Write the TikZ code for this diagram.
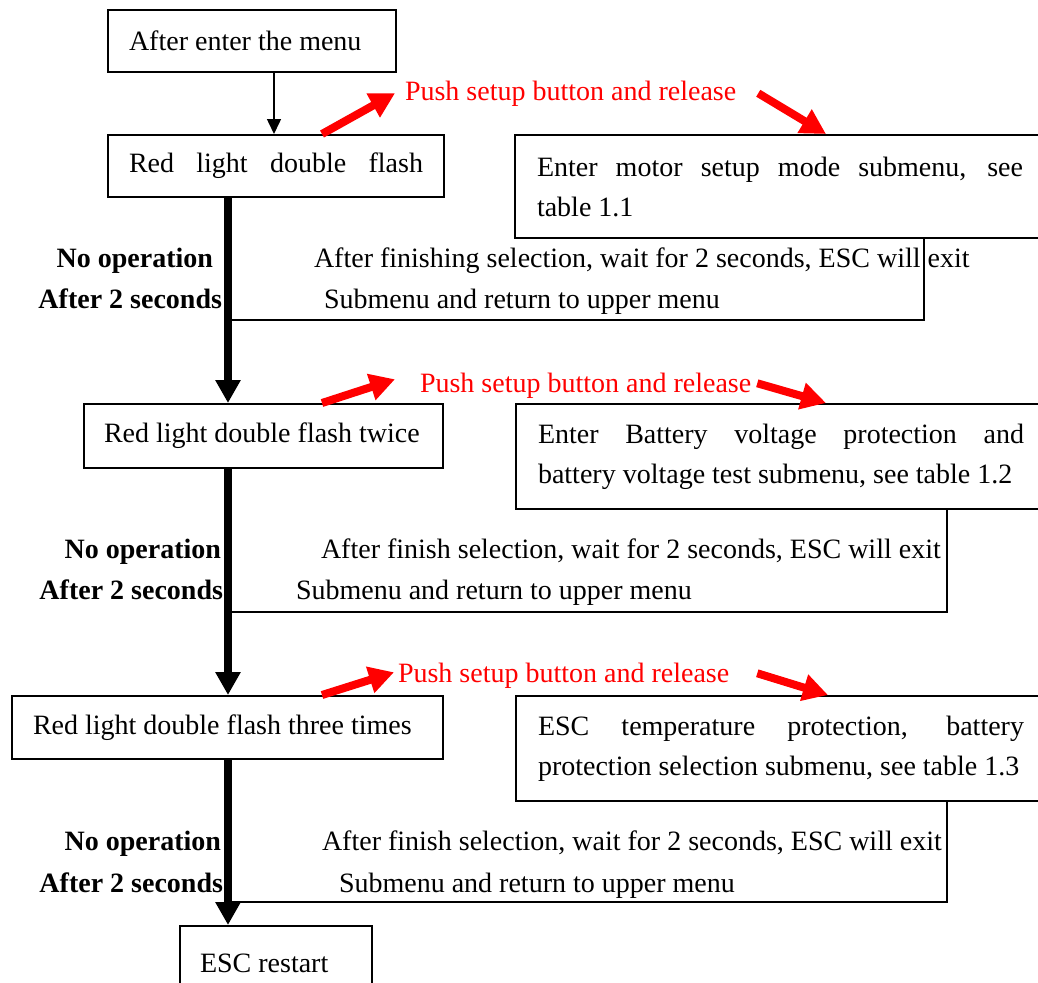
\documentclass[tikz,border=0pt]{standalone}
\usepackage{fontspec}
\setmainfont{Liberation Serif}
\usetikzlibrary{arrows.meta,positioning}

\begin{document}
\begin{tikzpicture}[x=0.5pt,y=-0.5pt,line width=1pt,
      every node/.style={font=\fontsize{14pt}{20pt}\selectfont,
         execute at begin node=\spaceskip0pt\xspaceskip0pt},
      box/.style={draw,anchor=north west,inner xsep=10.5pt,inner ysep=0pt,align=justify},
      sub/.style={box,text width=280pt,inner xsep=11pt},
      lab/.style={inner sep=0pt,anchor=base east,font=\fontsize{14pt}{20pt}\selectfont\bfseries},
      txt/.style={inner sep=0pt,anchor=base west},
      push/.style={red,inner sep=0pt,anchor=base west},
      flow/.style={line width=4pt,-{Triangle[width=12pt,length=11.5pt]}},
      hand/.style={red,line width=4pt,-{Triangle[width=13pt,length=12.5pt]}}]
      \useasboundingbox(0,0)rectangle(1038,982);
      \clip(0,0)rectangle(1038,982);
      \coordinate(spine)at(228,0);
      % left column
      \node[box,text width=123pt,minimum height=31pt](menu)at(107,9){After enter the menu};
      \node[box,text width=147pt,minimum height=31pt](flash1)at(107,134)
         {\makebox[147pt][s]{Red light double flash}};
      \node[box,text width=159.5pt,inner xsep=10pt,minimum height=32pt](flash2)at(83,403)
         {Red light double flash twice};
      \node[box,text width=194.5pt,minimum height=31.5pt](flash3)at(11,695)
         {Red light double flash three times};
      \node[box,text width=76pt,inner xsep=10pt,minimum height=37pt](restart)at(179,925)
         {ESC restart};
      % right column
      \node[sub,minimum height=51.5pt](sub1)at(514,134)
         {\makebox[243pt][s]{Enter motor setup mode submenu, see}\\table 1.1};
      \node[sub,minimum height=52.5pt](sub2)at(515,403)
         {\makebox[243pt][s]{Enter Battery voltage protection and}\\battery voltage test submenu, see table 1.2};
      \node[sub,minimum height=52.5pt](sub3)at(515,695)
         {\makebox[243pt][s]{ESC temperature protection, battery}\\protection selection submenu, see table 1.3};
      \node[push](push1)at(404,100){Push setup button and release};
      \node[push](push2)at(419,392){Push setup button and release};
      \node[push](push3)at(397,682){Push setup button and release};
      % timeouts
      \node[lab](noop1)at(214,267){No operation};
      \node[lab](wait1)at(223,308){After 2 seconds};
      \node[txt](exit1)at(313,267){After finishing selection, wait for 2 seconds, ESC will exit};
      \node[txt](back1)at(323,308){Submenu and return to upper menu};
      \node[lab](noop2)at(222,558){No operation};
      \node[lab](wait2)at(224,599){After 2 seconds};
      \node[txt](exit2)at(320,558){After finish selection, wait for 2 seconds, ESC will exit};
      \node[txt](back2)at(295,599){Submenu and return to upper menu};
      \node[lab](noop3)at(222,850){No operation};
      \node[lab](wait3)at(224,892){After 2 seconds};
      \node[txt](exit3)at(321,850){After finish selection, wait for 2 seconds, ESC will exit};
      \node[txt](back3)at(338,892){Submenu and return to upper menu};
      \coordinate(k1)at(924,320);
      \coordinate(k2)at(947,612);
      \coordinate(k3)at(947,902);
      \draw(k1-|spine)--(k1)--(k1|-sub1.south);
      \draw(k2-|spine)--(k2)--(k2|-sub2.south);
      \draw(k3-|spine)--(k3)--(k3|-sub3.south);
      % arrows
      \draw[line width=0.75pt,-{Triangle[width=7pt,length=7.5pt]}](menu.south-|274,0)--(flash1.north-|274,0);
      \draw[flow](flash1.south-|spine)--(flash2.north-|spine);
      \draw[flow](flash2.south-|spine)--(flash3.north-|spine);
      \draw[flow](flash3.south-|spine)--(restart.north-|spine);
      \draw[hand](flash1.north-|322,0)--([xshift=-4.5pt]push1.west);
      \draw[hand]([xshift=10.5pt]push1.east)--(sub1.north-|826,0);
      \draw[hand](flash2.north-|322,0)--([xshift=-12pt,yshift=3pt]push2.west);
      \draw[hand]([xshift=2.5pt,yshift=1pt]push2.east)--(sub2.north-|826,0);
      \draw[hand](flash3.north-|322,0)--([xshift=-1.5pt,yshift=1.5pt]push3.west);
      \draw[hand]([xshift=13.5pt,yshift=1pt]push3.east)--(sub3.north-|828,0);
    \end{tikzpicture}
\end{document}
